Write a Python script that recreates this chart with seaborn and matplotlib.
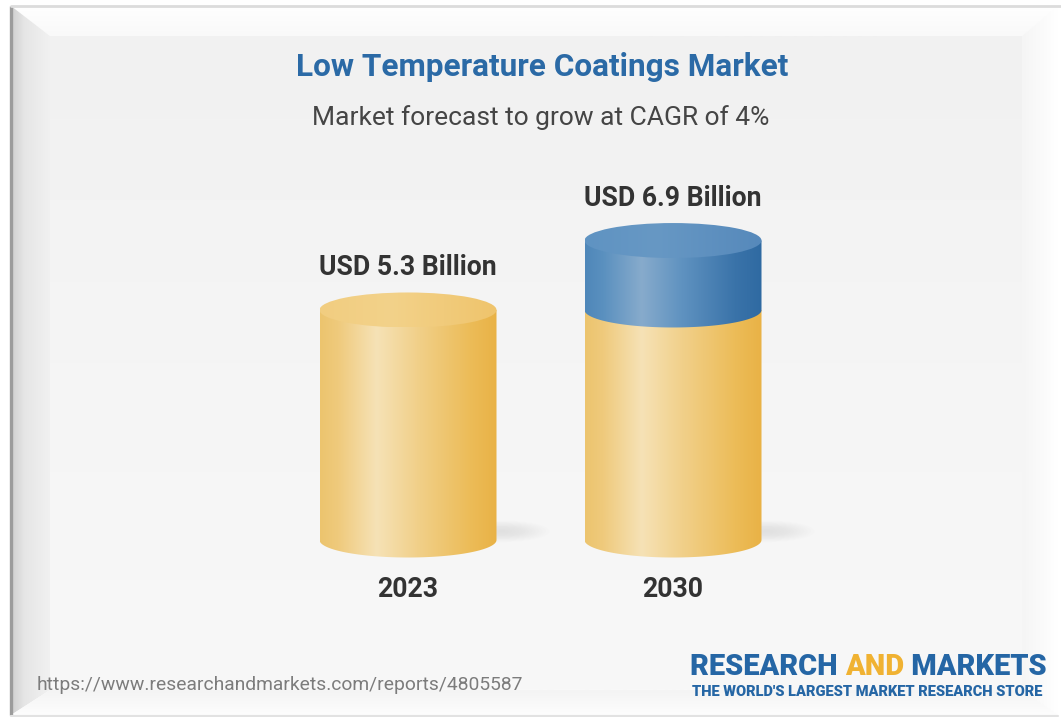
import numpy as np
import matplotlib
matplotlib.use("Agg")
import matplotlib.pyplot as plt
from matplotlib.colors import to_rgb, LinearSegmentedColormap
from matplotlib.patches import Polygon, Ellipse
import seaborn as sns
import pandas as pd

# ---- data ----
years = ["2023", "2030"]
market_size = [5.3, 6.9]            # USD billion
value_labels = ["USD 5.3 Billion", "USD 6.9 Billion"]
title = "Low Temperature Coatings Market"
subtitle = "Market forecast to grow at CAGR of 4%"
source_url = "https://www.researchandmarkets.com/reports/4805587"
brand = ["RESEARCH ", "AND", " MARKETS"]
tagline = "THE WORLD'S LARGEST MARKET RESEARCH STORE"

sns.set_theme(style="white")
plt.rcParams["font.family"] = ["Roboto", "DejaVu Sans"]

W, H = 1061, 717
fig = plt.figure(figsize=(W / 100, H / 100), dpi=100)
fig.patch.set_facecolor("white")

# ---------- frame / background layer (pixel coordinates) ----------
bg = fig.add_axes([0, 0, 1, 1])
bg.axis("off")


def grad_image(ax, stops, extent, vertical=False, zorder=0, clip=None):
    cmap = LinearSegmentedColormap.from_list(
        "g", [(p, to_rgb(c)) for p, c in stops])
    t = np.linspace(0, 1, 256)
    cols = cmap(t)[:, :3]
    img = cols[:, None, :] if vertical else cols[None, :, :]
    im = ax.imshow(img, extent=extent, aspect="auto", origin="upper",
                   interpolation="bilinear", zorder=zorder)
    if clip is not None:
        ax.add_patch(clip)
        im.set_clip_path(clip)
    return im


L, T, R, B = 11, 6, 1058, 715          # outer frame edge
li, ti, ri, bi = 50, 36, 1022, 690     # inner bevel edge

# main panel
grad_image(bg, [(0, "#f1f1f1"), (0.5, "#f5f5f5"), (1, "#f8f8f8")],
           (li, ri, bi, ti), vertical=True, zorder=0)
# bevels
grad_image(bg, [(0, "#ffffff"), (1, "#f9f9f9")], (L, R, ti, T), vertical=True,
           zorder=1, clip=Polygon([(L, T), (R, T), (ri, ti), (li, ti)],
                                  closed=True, transform=bg.transData,
                                  facecolor="none", edgecolor="none"))
grad_image(bg, [(0, "#cfcfcf"), (0.35, "#e6e6e6"), (1, "#f1f1f1")],
           (L, li, B, T), zorder=1,
           clip=Polygon([(L, T), (li, ti), (li, bi), (L, B)], closed=True,
                        transform=bg.transData, facecolor="none",
                        edgecolor="none"))
grad_image(bg, [(0, "#f5f5f5"), (1, "#ffffff")], (ri, R, B, T), zorder=1,
           clip=Polygon([(R, T), (R, B), (ri, bi), (ri, ti)], closed=True,
                        transform=bg.transData, facecolor="none",
                        edgecolor="none"))
grad_image(bg, [(0, "#f4f4f4"), (1, "#fdfdfd")], (L, R, B, bi), vertical=True,
           zorder=1, clip=Polygon([(L, B), (R, B), (ri, bi), (li, bi)],
                                  closed=True, transform=bg.transData,
                                  facecolor="none", edgecolor="none"))
# outer border lines
bg.plot([L, L], [T, B], color="#9c9c9c", lw=2.4, zorder=3,
        solid_capstyle="butt")
bg.plot([L, W], [T - 0.5, T - 0.5], color="#dcdcdc", lw=2.0, zorder=3)
bg.plot([L, R], [B + 0.5, B + 0.5], color="#e2e2e2", lw=1.5, zorder=3)
bg.set_xlim(0, W)
bg.set_ylim(H, 0)

# ---------- text ----------
bg.text(542, 67, title, ha="center", va="center", fontsize=22.7,
        fontweight="bold", color="#2b6aa6", zorder=5)
bg.text(541, 118, subtitle, ha="center", va="center", fontsize=19,
        color="#454545", zorder=5)
bg.text(37, 685, source_url, ha="left", va="center", fontsize=13.9,
        color="#7c7c7c", zorder=5)

brand_colors = ["#2566a5", "#f0b232", "#2566a5"]
x = 690
for part, col in zip(brand, brand_colors):
    t = bg.text(x, 667, part, ha="left", va="center", fontsize=20.9,
                fontweight="black", color=col, zorder=5)
    fig.canvas.draw()
    bb = t.get_window_extent()
    x += bb.width
bg.text(692, 692, tagline, ha="left", va="center", fontsize=10.5,
        fontweight="black", color="#2566a5", zorder=5)

# ---------- cylinders ----------
PX_PER_UNIT_Y = 43.4    # vertical pixels per USD billion
PX_PER_UNIT_X = 265.0   # horizontal pixels between categories
BASE_PX_Y = 540.0       # pixel row of the zero line
FIRST_PX_X = 408.0      # pixel column of the first category
BAR_W = 177.0 / PX_PER_UNIT_X
RIM = 17.5 / PX_PER_UNIT_Y   # half-height of the elliptical rims

ax = fig.add_axes([0, 0, 1, 1], facecolor="none")
df = pd.DataFrame({"year": years, "value": market_size})
sns.barplot(data=df, x="year", y="value", ax=ax, width=BAR_W,
            color="#eec064", errorbar=None)
ax.axis("off")

yellow_body = [(0, "#ecc46e"), (0.1, "#efca7c"), (0.32, "#f6e2b6"),
               (0.55, "#f1d08a"), (0.85, "#ecbc58"), (1, "#e9b246")]
blue_body = [(0, "#4f87b9"), (0.1, "#5a90bf"), (0.32, "#87abcc"),
             (0.55, "#5f92c0"), (0.85, "#3a73a9"), (1, "#2f6aa2")]
yellow_top = [(0, "#f1cd80"), (0.4, "#f3d28a"), (1, "#efc46c")]
blue_top = [(0, "#5f93c2"), (0.4, "#6798c4"), (1, "#5689bb")]

base_level = market_size[0]


def body_polygon(x0, x1, y_lo, y_hi):
    xc, a = (x0 + x1) / 2, (x1 - x0) / 2
    t = np.linspace(np.pi, 2 * np.pi, 80)
    arc = np.column_stack([xc + a * np.cos(t), y_lo + RIM * np.sin(t)])
    verts = [(x0, y_hi)] + arc.tolist() + [(x1, y_hi)]
    return Polygon(verts, closed=True, transform=ax.transData,
                   facecolor="none", edgecolor="none")


for patch in list(ax.patches):
    x0 = patch.get_x()
    w = patch.get_width()
    h = patch.get_height()
    x1 = x0 + w
    xc = x0 + w / 2
    patch.set_visible(False)

    # soft floor shadow on the right
    for k in range(14):
        s = 1 - k / 14
        ax.add_patch(Ellipse((x1 + 0.02, 0.2), 0.36 * s, 0.5 * s,
                             facecolor="#a8a8a8", edgecolor="none",
                             alpha=0.016, zorder=1))

    y_split = min(h, base_level)
    grad_image(ax, yellow_body, (x0, x1, -RIM - 0.05, y_split), zorder=2,
               clip=body_polygon(x0, x1, 0, y_split))
    top_stops = yellow_top
    if h > base_level:
        grad_image(ax, blue_body, (x0, x1, base_level - RIM - 0.05, h),
                   zorder=3, clip=body_polygon(x0, x1, base_level, h))
        top_stops = blue_top
    top = Ellipse((xc, h), w, 2 * RIM, transform=ax.transData,
                  facecolor="none", edgecolor="none")
    grad_image(ax, top_stops, (x0, x1, h - RIM, h + RIM), zorder=4, clip=top)

# value and category labels
for i, (v, lab, yr) in enumerate(zip(market_size, value_labels, years)):
    ax.text(i, v + 0.98, lab, ha="center", va="center", fontsize=19.2,
            fontweight="bold", color="#333333", zorder=6)
    ax.text(i, -1.15, yr, ha="center", va="center", fontsize=19.2,
            fontweight="bold", color="#333333", zorder=6)

ax.set_xlim(-FIRST_PX_X / PX_PER_UNIT_X, (W - FIRST_PX_X) / PX_PER_UNIT_X)
ax.set_ylim(-(H - BASE_PX_Y) / PX_PER_UNIT_Y, BASE_PX_Y / PX_PER_UNIT_Y)

fig.savefig("out.png", dpi=100, facecolor="white")
